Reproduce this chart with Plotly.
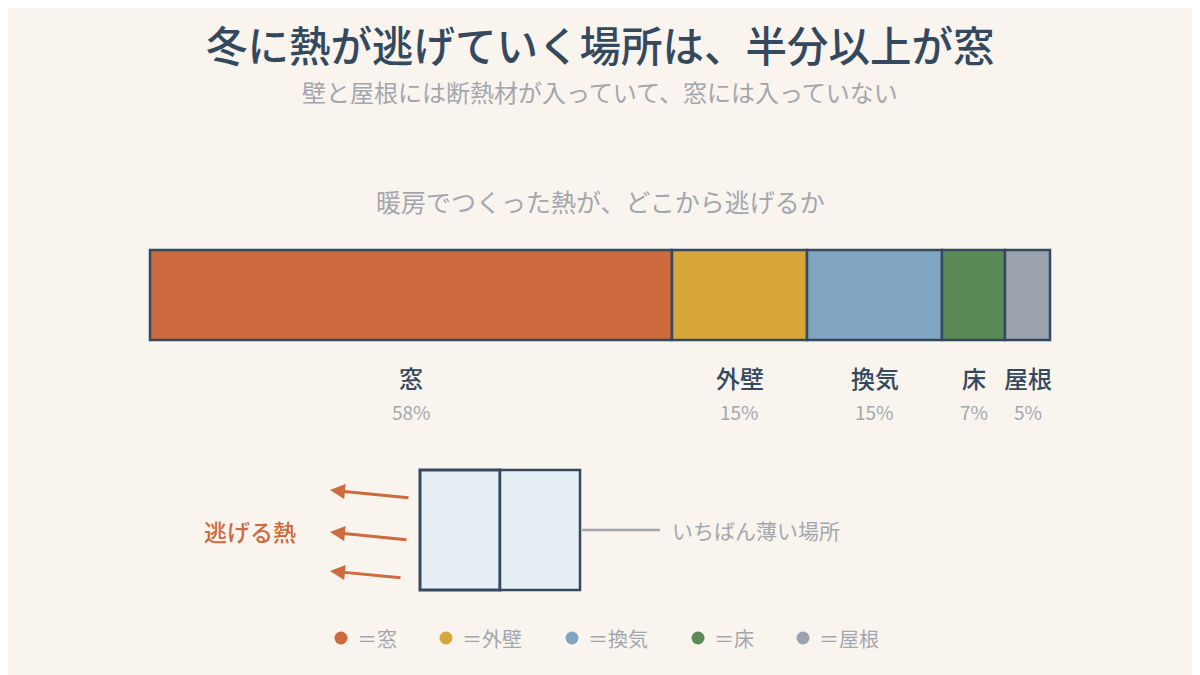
import plotly.graph_objects as go

categories = ["窓", "外壁", "換気", "床", "屋根"]
values = [58, 15, 15, 7, 5]
colors = ["#cd6a3e", "#d8a73c", "#80a5c3", "#5a8a55", "#9aa3ae"]

BG = "#f9f4ee"
DARK = "#34495e"
GRAY = "#a3a7ad"
FONT = "Noto Sans CJK JP"
OFF = 8  # page body margin compensation

def px(p):  # pixel x -> data x (9 px per percent, 0 at 150px)
    return (p - 150) / 9.0

fig = go.Figure()
bases = []
b = 0
for v in values:
    bases.append(b)
    b += v
for c, v, base, col in zip(categories, values, bases, colors):
    fig.add_trace(go.Bar(x=[v], base=[base], y=[295], width=[90], orientation="h",
                         marker=dict(color=col, line=dict(color=DARK, width=2.5)),
                         showlegend=False, hoverinfo="skip"))
    cx = base + v / 2
    fig.add_annotation(x=cx, y=377, text=c, showarrow=False,
                       font=dict(size=24, color=DARK, family=FONT, weight=500))
    fig.add_annotation(x=cx, y=411, text="%d%%" % v, showarrow=False,
                       font=dict(size=19, color=GRAY, family=FONT))

# titles
fig.add_annotation(x=px(600), y=44, text="冬に熱が逃げていく場所は、半分以上が窓", showarrow=False,
                   font=dict(size=41.5, color=DARK, family=FONT, weight=500))
fig.add_annotation(x=px(600), y=91, text="壁と屋根には断熱材が入っていて、窓には入っていない", showarrow=False,
                   font=dict(size=24, color=GRAY, family=FONT))
fig.add_annotation(x=px(600), y=201, text="暖房でつくった熱が、どこから逃げるか", showarrow=False,
                   font=dict(size=25, color=GRAY, family=FONT))

# diagram
fig.add_shape(type="rect", x0=px(420), x1=px(500), y0=470, y1=590, fillcolor="#e6eef6",
              line=dict(color=DARK, width=3), layer="above")
fig.add_shape(type="rect", x0=px(500), x1=px(580), y0=470, y1=590, fillcolor="#e6eef6",
              line=dict(color=DARK, width=2.5), layer="above")
for y0, y1, x0 in [(498, 490, 410), (540, 532, 408), (578, 571, 402)]:
    fig.add_annotation(x=px(330), y=y1, ax=px(x0), ay=y0, xref="x", yref="y", axref="x", ayref="y",
                       text="", showarrow=True, arrowhead=2, arrowsize=1, arrowwidth=3, arrowcolor="#cd6a3e")
fig.add_annotation(x=px(250), y=531, text="逃げる熱", showarrow=False,
                   font=dict(size=23, color="#cd6a3e", family=FONT, weight=500))
fig.add_shape(type="line", x0=px(582), x1=px(660), y0=530, y1=530, line=dict(color=GRAY, width=2.5))
fig.add_annotation(x=px(670), y=530, text="いちばん薄い場所", showarrow=False, xanchor="left",
                   font=dict(size=21, color=GRAY, family=FONT))

# legend
leg_x = [341, 446, 572, 698, 803]
for c, col, lx in zip(categories, colors, leg_x):
    fig.add_trace(go.Scatter(x=[px(lx)], y=[638], mode="markers",
                             marker=dict(size=13, color=col), showlegend=False, hoverinfo="skip"))
    fig.add_annotation(x=px(lx + 14), y=638, text="＝" + c, showarrow=False, xanchor="left",
                       font=dict(size=20, color=GRAY, family=FONT))

fig.update_layout(width=1200, height=675, paper_bgcolor=BG, plot_bgcolor=BG,
                  margin=dict(l=0, r=0, t=0, b=0), barmode="overlay",
                  xaxis=dict(range=[px(OFF), px(1200 + OFF)], visible=False, fixedrange=True),
                  yaxis=dict(range=[675 + OFF, OFF], visible=False, fixedrange=True),
                  font=dict(family=FONT))
fig.write_html("out.html")
